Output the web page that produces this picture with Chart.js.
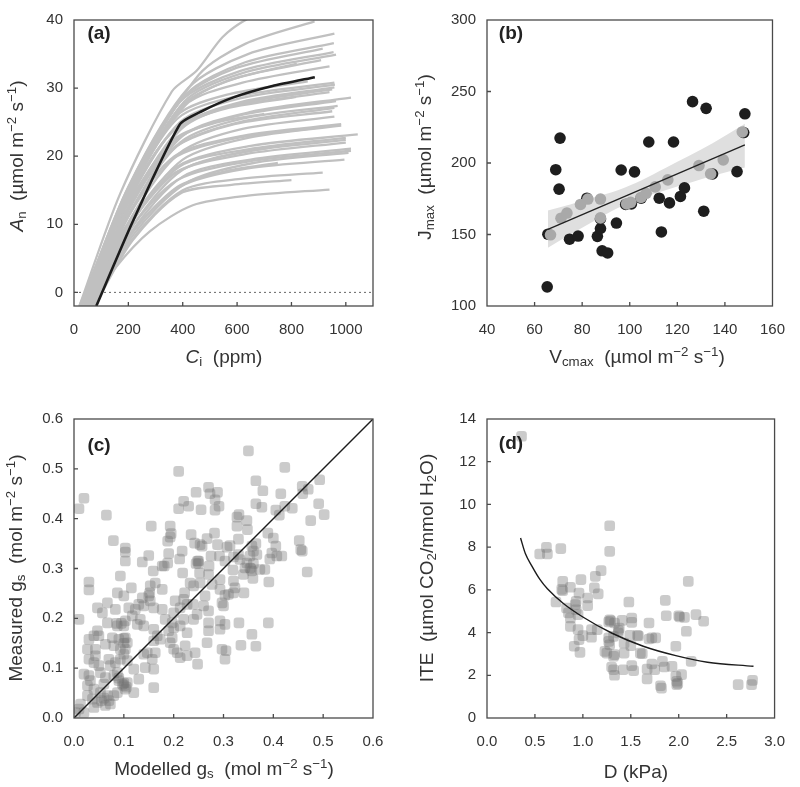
<!DOCTYPE html>
<html>
<head>
<meta charset="utf-8">
<title>Leaf gas exchange panels</title>
<script src="https://cdn.jsdelivr.net/npm/chart.js"></script>
<style>
body { margin: 0; background: #fff; font-family: 'Liberation Sans', Arial, sans-serif; color: #333; }
#wrap { position: relative; width: 800px; height: 787px; }
canvas { position: absolute; }
.t { position: absolute; white-space: nowrap; font-size: 19px; transform: translate(-50%, -50%); }
.r { transform: translate(-50%, -50%) rotate(-90deg); }
.lab { position: absolute; font-weight: bold; font-size: 19px; transform: translate(-50%, -50%); color: #222; }
sub { font-size: 0.7em; vertical-align: -0.25em; line-height: 0; }
sup { font-size: 0.7em; vertical-align: 0.55em; line-height: 0; }
</style>
</head>
<body>
<div id="wrap">
  <canvas id="pa" width="400" height="393" style="left:0;top:0"></canvas>
  <canvas id="pb" width="400" height="393" style="left:400px;top:0"></canvas>
  <canvas id="pc" width="400" height="394" style="left:0;top:393px"></canvas>
  <canvas id="pd" width="400" height="394" style="left:400px;top:393px"></canvas>

  <div class="lab" style="left:99px;top:33px">(a)</div>
  <div class="lab" style="left:511px;top:33px">(b)</div>
  <div class="lab" style="left:99px;top:445px">(c)</div>
  <div class="lab" style="left:511px;top:443px">(d)</div>

  <div class="t r" style="left:17px;top:156px"><i>A</i><sub>n</sub>&nbsp; (µmol m<sup>−2</sup> s<sup>−1</sup>)</div>
  <div class="t" style="left:224px;top:357px"><i>C</i><sub>i</sub>&nbsp; (ppm)</div>
  <div class="t r" style="left:425px;top:157px">J<sub>max</sub>&nbsp; (µmol m<sup>−2</sup> s<sup>−1</sup>)</div>
  <div class="t" style="left:637px;top:357px">V<sub>cmax</sub>&nbsp; (µmol m<sup>−2</sup> s<sup>−1</sup>)</div>
  <div class="t r" style="left:16px;top:568px">Measured g<sub>s</sub>&nbsp; (mol m<sup>−2</sup> s<sup>−1</sup>)</div>
  <div class="t" style="left:224px;top:769px">Modelled g<sub>s</sub>&nbsp; (mol m<sup>−2</sup> s<sup>−1</sup>)</div>
  <div class="t r" style="left:427px;top:568px">ITE&nbsp; (µmol CO<sub>2</sub>/mmol H<sub>2</sub>O)</div>
  <div class="t" style="left:636px;top:772px">D (kPa)</div>
</div>

<script>
// ---- (a) A/Ci curves, [Ci, An] pairs
const aciCurves = [
  [[20,-2],[170,14.5],[360,29.5],[450,32.5],[547,37.5],[640,40.2],[850,44]],
  [[20,-2],[218,16.5],[460,32],[630,36.5],[885,39.8]],
  [[25,-2],[200,15.5],[420,30],[640,35],[958,38]],
  [[28,-2],[200,15],[410,29],[630,33.8],[956,36.6]],
  [[30,-2],[195,14.6],[400,28.5],[600,33],[915,35.8]],
  [[25,-2],[190,14.6],[390,28],[610,32.5],[955,35.3]],
  [[35,-2],[200,14.3],[405,28],[620,32.2],[964,34.9]],
  [[30,-2],[195,14.2],[400,27.5],[600,31.5],[909,34.1]],
  [[40,-2],[200,14.2],[390,27],[560,31],[820,33.6]],
  [[30,-2],[195,13.8],[410,27.5],[620,30.8],[940,33.2]],
  [[25,-2],[185,13.5],[380,26],[560,29],[860,31]],
  [[30,-2],[190,13.3],[380,25.5],[600,28.8],[958,30.8]],
  [[35,-2],[195,13],[390,25],[610,28.5],[960,30.5]],
  [[40,-2],[200,12.6],[400,24.5],[620,28],[958,30.1]],
  [[45,-2],[205,12.6],[395,24],[610,27.7],[950,29.8]],
  [[38,-2],[190,12.6],[370,24],[580,27.3],[940,29.4]],
  [[30,-2],[185,12.7],[360,23.5],[540,26.8],[817,28.7]],
  [[50,-2],[210,12],[400,23],[650,26.5],[1019,28.6]],
  [[40,-2],[200,12],[380,22.5],[610,26],[964,28.1]],
  [[45,-2],[205,11.7],[390,22],[620,25.5],[970,27.4]],
  [[50,-2],[205,11.5],[380,21.5],[610,25],[958,27.1]],
  [[35,-2],[185,11.4],[360,21],[590,24.7],[950,26.6]],
  [[30,-2],[190,12.4],[370,22.5],[530,25],[700,26.2]],
  [[55,-2],[210,11],[390,20.5],[620,24],[958,25.8]],
  [[40,-2],[190,10.8],[370,20],[620,23],[983,24.7]],
  [[60,-2],[215,10.4],[400,19.5],[640,22.7],[983,24.5]],
  [[45,-2],[190,10.5],[360,19.5],[580,22.5],[900,24.2]],
  [[50,-2],[200,9.9],[380,18.5],[650,21.5],[1044,23.2]],
  [[55,-2],[205,9.8],[390,18.5],[640,21],[1000,22.7]],
  [[60,-2],[210,9.4],[400,18],[650,20.8],[1000,22.4]],
  [[45,-2],[190,9.6],[370,17.5],[630,20.3],[1000,22]],
  [[50,-2],[195,9.4],[370,17.5],[530,19.8],[725,21.3]],
  [[65,-2],[210,8.8],[400,17],[650,19.5],[1019,21.1]],
  [[55,-2],[200,8.9],[380,16.5],[640,19.2],[1019,20.8]],
  [[70,-2],[215,8.3],[410,16],[660,19],[1010,20.5]],
  [[60,-2],[200,8.2],[390,15.5],[640,18.2],[995,19.5]],
  [[65,-2],[205,8.2],[380,15.5],[560,17.8],[750,19]],
  [[70,-2],[210,7.6],[400,15],[620,16.7],[915,17.6]],
  [[75,-2],[215,7.6],[390,14.5],[580,15.8],[800,16.5]],
  [[60,-2],[150,3.5],[280,9],[437,12.8],[640,14.2],[940,15.1]]
];
const aciMean = [[82,-2],[215,10.3],[390,24.7],[470,26.6],[584,28.6],[730,30.3],[886,31.6]];
const aciZero = [[0,0],[1100,0]];

// ---- (b) Jmax vs Vcmax
const bBlackV = [65.3,65.6,68.9,70.3,70.7,74.7,78.3,82,86.4,87.7,87.7,88.4,90.7,94.4,96.4,98.3,100.7,102,104.8,108,112.4,113.3,116.7,118.4,121.3,123,126.4,131.1,132.1,134.8,145.1,147.9,148.4];
const bBlackJ = [113.4,150.2,195.3,181.7,217.4,146.7,148.9,175.4,148.7,160.9,154.2,138.6,137.1,158,195.1,171,171.4,193.8,175.4,214.7,175.4,151.8,172.1,214.7,176.6,182.6,242.9,166.3,238.2,192.3,194,221.3,234.4];
const bGrayV = [66.7,71.1,73.6,79.3,82.4,87.7,87.7,98.7,100.4,104.7,106.9,110.7,116,129.1,134,139.3,147.3];
const bGrayJ = [149.8,161.4,165,171,174.8,174.8,161.6,171.4,172.5,175.9,178.8,183.3,188.2,198.2,192.4,202.2,221.7];
const bFitV = [65.6,148.4];
const bFitJ = [153.6,212.7];
const bBandV = [65.6,75,85,95,105,115,125,135,148.4];
const bBandUpper = [166.8,171,176,181,188,196.5,205,214,227.4];
const bBandLower = [140.8,150,159.5,168.5,175.5,181,186,191,196.8];

// ---- (c) measured vs modelled gs, [modelled, measured]
const cPoints = [
  [0.21,0.495],[0.02,0.441],[0.01,0.42],[0.065,0.407],[0.155,0.385],[0.079,0.356],
  [0.103,0.341],[0.103,0.333],[0.103,0.315],[0.15,0.326],[0.137,0.313],[0.159,0.295],
  [0.163,0.271],[0.153,0.265],[0.152,0.251],[0.03,0.273],[0.03,0.257],[0.093,0.285],
  [0.115,0.261],[0.087,0.251],[0.1,0.245],[0.177,0.258],[0.177,0.305],[0.193,0.385],
  [0.195,0.37],[0.193,0.363],[0.188,0.355],[0.22,0.435],[0.23,0.425],[0.21,0.42],
  [0.245,0.453],[0.27,0.463],[0.288,0.453],[0.273,0.45],[0.283,0.438],[0.291,0.425],
  [0.255,0.418],[0.283,0.417],[0.235,0.368],[0.242,0.351],[0.253,0.348],[0.257,0.345],
  [0.248,0.315],[0.25,0.31],[0.252,0.291],[0.267,0.36],[0.282,0.371],[0.275,0.325],
  [0.292,0.325],[0.271,0.305],[0.288,0.348],[0.217,0.335],[0.212,0.319],[0.19,0.33],
  [0.188,0.311],[0.181,0.305],[0.218,0.291],[0.233,0.271],[0.24,0.265],[0.222,0.251],
  [0.22,0.238],[0.227,0.228],[0.203,0.235],[0.213,0.221],[0.253,0.271],[0.27,0.288],
  [0.277,0.268],[0.263,0.245],[0.26,0.225],[0.27,0.215],[0.239,0.228],[0.247,0.208],
  [0.24,0.198],[0.22,0.198],[0.227,0.171],[0.213,0.185],[0.2,0.211],[0.197,0.191],
  [0.197,0.161],[0.193,0.151],[0.2,0.138],[0.223,0.145],[0.227,0.125],[0.248,0.108],
  [0.243,0.131],[0.207,0.131],[0.213,0.121],[0.27,0.191],[0.27,0.175],[0.293,0.195],
  [0.293,0.178],[0.267,0.151],[0.297,0.138],[0.177,0.218],[0.16,0.221],[0.153,0.235],
  [0.15,0.245],[0.137,0.241],[0.13,0.228],[0.14,0.225],[0.123,0.218],[0.11,0.221],
  [0.117,0.205],[0.133,0.198],[0.127,0.188],[0.14,0.185],[0.16,0.178],[0.167,0.165],
  [0.16,0.155],[0.173,0.158],[0.183,0.198],[0.19,0.175],[0.2,0.181],[0.163,0.131],
  [0.157,0.118],[0.16,0.098],[0.16,0.061],[0.143,0.101],[0.147,0.131],[0.14,0.128],
  [0.13,0.078],[0.12,0.098],[0.12,0.051],[0.067,0.231],[0.047,0.221],[0.057,0.211],
  [0.083,0.218],[0.01,0.198],[0.067,0.191],[0.087,0.185],[0.1,0.185],[0.103,0.195],
  [0.047,0.175],[0.04,0.165],[0.03,0.158],[0.027,0.138],[0.05,0.165],[0.077,0.161],
  [0.09,0.158],[0.103,0.161],[0.107,0.151],[0.063,0.148],[0.08,0.145],[0.093,0.138],
  [0.103,0.138],[0.043,0.138],[0.043,0.125],[0.05,0.105],[0.03,0.118],[0.04,0.111],
  [0.07,0.118],[0.073,0.105],[0.083,0.111],[0.093,0.118],[0.1,0.128],[0.107,0.115],
  [0.02,0.088],[0.03,0.085],[0.033,0.075],[0.053,0.091],[0.063,0.081],[0.06,0.068],
  [0.08,0.085],[0.087,0.091],[0.09,0.075],[0.097,0.068],[0.1,0.065],[0.107,0.071],
  [0.103,0.058],[0.027,0.065],[0.04,0.058],[0.027,0.045],[0.037,0.038],[0.053,0.051],
  [0.067,0.045],[0.07,0.035],[0.047,0.031],[0.04,0.021],[0.08,0.045],[0.087,0.051],
  [0.063,0.025],[0.073,0.028],[0.01,0.018],[0.013,0.028],[0.02,0.011],[0.003,0.011],
  [0.293,0.278],[0.293,0.258],[0.297,0.231],
  [0.1,0.07],[0.105,0.062],[0.09,0.08],[0.055,0.035],[0.06,0.04],[0.1,0.15],[0.1,0.16],
  [0.245,0.31],[0.25,0.315],[0.355,0.3],[0.36,0.31],[0.085,0.19],[0.095,0.19],
  [0.35,0.536],[0.423,0.503],[0.365,0.476],[0.379,0.456],[0.415,0.45],[0.458,0.465],
  [0.47,0.459],[0.459,0.45],[0.493,0.478],[0.491,0.43],[0.502,0.408],[0.475,0.396],
  [0.365,0.43],[0.377,0.423],[0.405,0.417],[0.412,0.407],[0.423,0.425],[0.438,0.421],
  [0.331,0.408],[0.327,0.403],[0.347,0.396],[0.327,0.385],[0.348,0.378],[0.33,0.359],
  [0.313,0.346],[0.307,0.343],[0.389,0.371],[0.4,0.361],[0.405,0.345],[0.397,0.331],
  [0.407,0.325],[0.417,0.325],[0.393,0.319],[0.365,0.35],[0.357,0.345],[0.36,0.335],
  [0.367,0.328],[0.353,0.325],[0.33,0.328],[0.32,0.323],[0.333,0.318],[0.452,0.356],
  [0.458,0.335],[0.455,0.338],[0.347,0.311],[0.353,0.301],[0.343,0.301],[0.357,0.295],
  [0.373,0.298],[0.383,0.298],[0.319,0.297],[0.32,0.275],[0.323,0.261],[0.32,0.251],
  [0.34,0.288],[0.341,0.251],[0.359,0.28],[0.391,0.273],[0.468,0.293],[0.303,0.246],
  [0.31,0.248],[0.3,0.225],[0.303,0.188],[0.331,0.191],[0.39,0.191],[0.357,0.168],
  [0.335,0.146],[0.365,0.144],[0.305,0.135],[0.303,0.118],[0.303,0.315]
];
const cOneToOne = [[0,0],[0.6,0.6]];

// ---- (d) ITE vs D
const dPoints = [
  [0.36,13.19],[0.55,7.68],[0.62,7.99],[0.63,7.68],[0.77,7.93],[1.28,9.0],[1.28,7.8],
  [1.19,6.9],[1.13,6.63],[1.12,6.09],[1.16,5.81],[1.05,5.62],[1.05,5.26],[0.98,6.48],
  [0.96,5.85],[0.79,6.4],[0.87,6.12],[0.78,6.02],[0.79,5.96],[0.72,5.43],[0.83,5.15],
  [0.85,4.92],[0.87,4.68],[0.93,5.46],[0.93,5.07],[0.95,4.84],[0.92,5.31],[0.87,4.29],
  [0.95,4.14],[0.96,3.67],[0.91,3.36],[0.97,3.07],[1.0,3.86],[1.09,3.78],[1.09,4.14],
  [1.15,4.14],[1.23,3.12],[1.25,3.04],[1.27,3.59],[1.27,3.75],[1.28,3.43],[1.28,4.6],
  [1.29,4.55],[1.27,4.5],[1.33,4.45],[1.32,3.82],[1.33,2.97],[1.32,2.89],[1.3,2.39],
  [1.32,2.26],[1.33,2.0],[1.37,3.98],[1.37,4.1],[1.41,4.57],[1.43,3.51],[1.43,3.04],
  [1.42,2.26],[1.38,4.21],[1.48,5.43],[1.49,3.87],[1.5,3.39],[1.51,4.68],[1.51,4.48],
  [1.51,2.45],[1.53,2.22],[1.57,3.87],[1.58,3.84],[1.6,3.04],[1.62,3.01],[1.67,2.29],
  [1.67,1.83],[1.69,4.45],[1.69,3.7],[1.72,3.75],[1.76,3.75],[1.72,2.53],[1.75,2.26],
  [1.81,1.51],[1.82,1.4],[1.83,2.65],[1.85,2.39],[1.86,5.51],[1.87,4.79],[1.93,2.42],
  [1.97,3.36],[1.97,1.95],[1.98,1.72],[1.98,1.56],[1.99,1.62],[2.0,4.79],[2.03,2.03],
  [2.01,4.73],[2.06,4.71],[2.08,4.06],[2.1,6.4],[2.13,2.65],[2.18,4.84],[2.26,4.53],
  [2.62,1.56],[2.76,1.56],[2.77,1.76]
];
const dCurveD = [0.35,0.4,0.47,0.55,0.63,0.8,1.0,1.3,1.63,1.97,2.3,2.78];
const dCurveITE = [8.43,7.7,7.1,6.5,6.05,5.35,4.73,3.98,3.36,2.92,2.61,2.42];

const FONT = "'Liberation Sans', Arial, sans-serif";
const xy = pts => pts.map(p => ({x: p[0], y: p[1]}));
const zip = (xs, ys) => xs.map((v, i) => ({x: v, y: ys[i]}));

// frame box + inward tick marks
const frameTicks = {
  id: 'frameTicks',
  afterDatasetsDraw(chart) {
    const {ctx, chartArea: a, scales} = chart;
    ctx.save();
    ctx.strokeStyle = '#4a4a4a';
    ctx.lineWidth = 1.3;
    ctx.strokeRect(a.left, a.top, a.right - a.left, a.bottom - a.top);
    ctx.beginPath();
    scales.x.ticks.forEach(t => {
      const px = scales.x.getPixelForValue(t.value);
      if (px > a.left + 2 && px < a.right - 2) { ctx.moveTo(px, a.bottom); ctx.lineTo(px, a.bottom - 4); }
    });
    scales.y.ticks.forEach(t => {
      const py = scales.y.getPixelForValue(t.value);
      if (py > a.top + 2 && py < a.bottom - 2) { ctx.moveTo(a.left, py); ctx.lineTo(a.left + 4, py); }
    });
    ctx.stroke();
    ctx.restore();
  }
};

function axis(min, max, step, fmt, isX, size) {
  return {
    type: 'linear', min: min, max: max,
    grid: {display: false, drawTicks: false},
    border: {display: false},
    ticks: {
      stepSize: step, includeBounds: false, autoSkip: false, maxRotation: 0,
      padding: isX ? 15 : 11, color: '#333', font: {family: FONT, size: 15},
      callback: fmt
    },
    afterFit(s) { if (isX) s.height = size; else s.width = size; }
  };
}

function makeChart(id, datasets, xAxis, yAxis, pad) {
  return new Chart(document.getElementById(id), {
    type: 'line',
    data: {datasets: datasets},
    options: {
      responsive: false, animation: false,
      layout: {autoPadding: false, padding: pad},
      plugins: {legend: {display: false}, tooltip: {enabled: false}},
      scales: {x: xAxis, y: yAxis}
    },
    plugins: [frameTicks]
  });
}

const plain = v => String(v);
const one = v => Number(v).toFixed(1);

// (a)
const aSets = aciCurves.map(c => ({
  data: xy(c), borderColor: '#c0c0c0', borderWidth: 2.3, pointRadius: 0,
  tension: 0.28, order: 2
}));
aSets.push({data: xy(aciMean), borderColor: '#1c1c1c', borderWidth: 2.6, pointRadius: 0,
  tension: 0.2, order: 1});
aSets.push({data: xy(aciZero), borderColor: '#666', borderWidth: 1, borderDash: [2, 3],
  pointRadius: 0, order: 3});
makeChart('pa', aSets,
  axis(0, 1100, 200, plain, true, 30),
  axis(-2, 40, 10, plain, false, 74),
  {left: 0, top: 7, right: 27, bottom: 57});

// (b)
makeChart('pb', [
  {data: zip(bFitV, bFitJ), borderColor: '#222', borderWidth: 1.3, pointRadius: 0, order: 0},
  {data: zip(bGrayV, bGrayJ), showLine: false, pointRadius: 5.8, pointBackgroundColor: '#a9a9a9',
    pointBorderWidth: 0, order: 1},
  {data: zip(bBlackV, bBlackJ), showLine: false, pointRadius: 5.8, pointBackgroundColor: '#1e1e1e',
    pointBorderWidth: 0, order: 2},
  {data: zip(bBandV, bBandUpper), borderWidth: 0, pointRadius: 0, backgroundColor: '#dfdfdf',
    fill: '+1', cubicInterpolationMode: 'monotone', order: 3},
  {data: zip(bBandV, bBandLower), borderWidth: 0, pointRadius: 0, fill: false,
    cubicInterpolationMode: 'monotone', order: 4}
],
  axis(40, 160, 20, plain, true, 30),
  axis(100, 300, 50, plain, false, 87),
  {left: 0, top: 7, right: 13, bottom: 57});

// (c)
makeChart('pc', [
  {data: xy(cOneToOne), borderColor: '#1c1c1c', borderWidth: 1.4, pointRadius: 0, order: 0},
  {data: xy(cPoints), showLine: false, pointStyle: 'rectRounded', pointRadius: 6.2,
    pointBackgroundColor: 'rgba(115,115,115,0.37)', pointBorderWidth: 0, order: 1}
],
  axis(0, 0.6, 0.1, one, true, 30),
  axis(0, 0.6, 0.1, one, false, 74),
  {left: 0, top: 26, right: 27, bottom: 39});

// (d)
makeChart('pd', [
  {data: zip(dCurveD, dCurveITE), borderColor: '#1c1c1c', borderWidth: 1.4, pointRadius: 0,
    cubicInterpolationMode: 'monotone', order: 0},
  {data: xy(dPoints), showLine: false, pointStyle: 'rectRounded', pointRadius: 6.2,
    pointBackgroundColor: 'rgba(115,115,115,0.37)', pointBorderWidth: 0, order: 1}
],
  axis(0, 3, 0.5, one, true, 30),
  axis(0, 14, 2, plain, false, 87),
  {left: 0, top: 26, right: 14, bottom: 39});
</script>
</body>
</html>
